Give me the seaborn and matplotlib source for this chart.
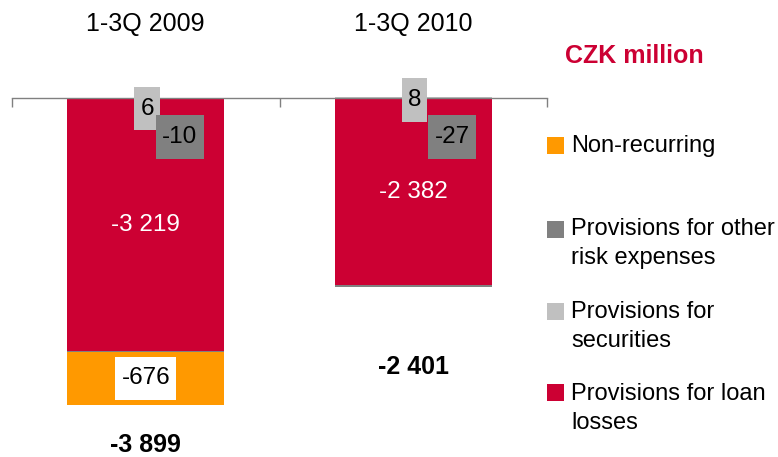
import matplotlib
matplotlib.use('Agg')
import matplotlib.pyplot as plt
import matplotlib.transforms as mtransforms
from matplotlib.patches import Rectangle
from matplotlib.path import Path
import seaborn as sns
import numpy as np

# ---- data ----
periods = ['1-3Q 2009', '1-3Q 2010']
loan_losses = [-3219, -2382]
other_risk = [-10, -27]
securities = [6, 8]
non_recurring = [-676, 0]
totals = [-3899, -2401]
unit_label = 'CZK million'
legend_labels = ['Non-recurring', 'Provisions for other\nrisk expenses',
                 'Provisions for\nsecurities', 'Provisions for loan\nlosses']

# ---- styles ----
RED = '#CC0033'
ORANGE = '#FF9900'
DGRAY = '#808080'
LGRAY = '#C0C0C0'
W, H = 778, 457

sns.set_style('white')
plt.rcParams['font.family'] = ['Liberation Sans', 'DejaVu Sans']


def fmt(v):
    return f"{v:,}".replace(',', ' ')


def label_box(x0, y0, width, height, mutation_size):
    px = 0.25 * mutation_size
    py = 0.44 * mutation_size
    x0, y0 = x0 - px, y0 - py
    x1, y1 = x0 + width + 2 * px, y0 + height + 2 * py
    return Path([(x0, y0), (x1, y0), (x1, y1), (x0, y1), (x0, y0)], closed=True)


fig = plt.figure(figsize=(W / 100, H / 100), dpi=100)
ax = fig.add_axes([12 / W, 1 - 405 / H, 535 / W, 307 / H])

c1 = np.array(loan_losses)
c2 = c1 + np.array(other_risk)
c3 = c2 + np.array(non_recurring)

bw = 0.587
common = dict(width=bw, ax=ax, saturation=1, linewidth=0, errorbar=None)
sns.barplot(x=periods, y=list(c3), color=ORANGE, **common)
sns.barplot(x=periods, y=list(c2), color=DGRAY, **common)
sns.barplot(x=periods, y=list(c1), color=RED, **common)
sns.barplot(x=periods, y=securities, color=LGRAY, **common)
for p in ax.patches:
    p.set_clip_on(False)

ymin = c3.min()
ax.set_ylim(ymin, 0)
ax.set_xlim(-0.5, len(periods) - 0.5)
ax.set_yticks([])
ax.set_xlabel('')
ax.set_ylabel('')
for s in ['left', 'right', 'bottom']:
    ax.spines[s].set_visible(False)
ax.spines['top'].set_color(DGRAY)
ax.spines['top'].set_linewidth(1.0)
ax.spines['top'].set_zorder(5)
ax.xaxis.set_ticks_position('top')
ax.set_xticks(np.arange(-0.5, len(periods), 1.0))
ax.set_xticklabels([])
ax.tick_params(axis='x', direction='in', length=6.5, color=DGRAY, width=1)


def ypx(p):
    # pixel row -> data y
    return -(p - 98) * (-ymin) / 307.0


FS = 17.5
trans_xfig = mtransforms.blended_transform_factory(ax.transData, fig.transFigure)

# category headers
for i, name in enumerate(periods):
    ax.text(i, 1 - 31 / H, name, transform=trans_xfig, ha='center', va='baseline',
            fontsize=18, color='black', clip_on=False)

fig.text(565 / W, 1 - 63 / H, unit_label, ha='left', va='baseline',
         fontsize=18, fontweight='bold', color=RED)

# loan-loss labels (white, centered in segment)
for i, v in enumerate(loan_losses):
    ax.text(i, v / 2, fmt(v), ha='center', va='center', fontsize=FS, color='white')

# securities labels
sec_pos = [(0.005, ypx(108.5)), (1.005, ypx(100))]
for i, v in enumerate(securities):
    x, y = sec_pos[i]
    ax.text(x, y, fmt(v), ha='center', va='center', fontsize=FS, color='black', zorder=6,
            bbox=dict(boxstyle=label_box, fc=LGRAY, ec='none'), clip_on=False)

# other-risk labels
oth_pos = [(0.128, ypx(137)), (1.145, ypx(137))]
for i, v in enumerate(other_risk):
    x, y = oth_pos[i]
    ax.text(x, y, fmt(v), ha='center', va='center', fontsize=FS, color='black', zorder=7,
            bbox=dict(boxstyle=label_box, fc=DGRAY, ec='none'))

# non-recurring label
for i, v in enumerate(non_recurring):
    if v != 0:
        ax.text(i, c2[i] + v / 2, fmt(v), ha='center', va='center', fontsize=FS,
                color='black', zorder=7, bbox=dict(boxstyle=label_box, fc='white', ec='none'))

# totals
tot_base = [452, 374]
for i, v in enumerate(totals):
    ax.text(i, 1 - tot_base[i] / H, fmt(v), transform=trans_xfig, ha='center',
            va='baseline', fontsize=18, fontweight='bold', color='black', clip_on=False)

# legend
leg_colors = [ORANGE, DGRAY, LGRAY, RED]
leg_sq_top = [137, 221, 303, 384]
leg_base = [152, 235, 318, 400]
for col, lab, sq, bl in zip(leg_colors, legend_labels, leg_sq_top, leg_base):
    fig.patches.append(Rectangle((547 / W, 1 - (sq + 16.5) / H), 16.5 / W, 16.5 / H,
                                 transform=fig.transFigure, fc=col, ec='none'))
    for k, line in enumerate(lab.split('\n')):
        fig.text(571 / W, 1 - (bl + 29 * k) / H, line, ha='left', va='baseline',
                 fontsize=17, color='black')

fig.savefig('out.png', dpi=100)
